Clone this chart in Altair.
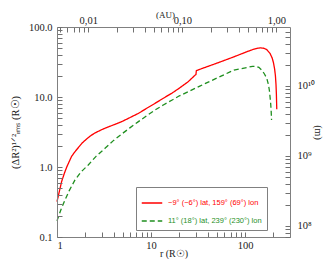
import altair as alt
import pandas as pd

# ---- data ----
RSUN_M = 6.96e8      # metres per solar radius
AU_RSUN = 215.0      # solar radii per AU

red_label = "−9° (−6°) lat, 159° (69°) lon"
green_label = "11° (18°) lat, 239° (230°) lon"

red_r = [1.0, 1.06, 1.12, 1.2, 1.27, 1.35, 1.43, 1.55, 1.69, 1.85, 2.07, 2.3, 2.54, 2.9, 3.24,
         4.0, 4.88, 6.0, 7.34, 9.0, 11.0, 13.5, 16.6, 20.0, 24.9, 29.5, 30.0, 30.3, 35.0, 40.0,
         50.0, 60.0, 76.0, 90.0, 105.0, 120.0, 134.0, 145.0, 158.0, 170.0, 184.0, 194.0, 200.0,
         206.0, 210.0, 213.0, 215.0, 216.0, 217.0]
red_dr = [0.32, 0.45, 0.62, 0.82, 1.0, 1.2, 1.42, 1.65, 1.9, 2.2, 2.52, 2.82, 3.07, 3.35, 3.58,
          4.0, 4.45, 5.1, 5.84, 6.9, 8.1, 9.6, 11.3, 13.4, 16.6, 20.6, 20.9, 23.8, 25.6, 27.3,
          30.4, 33.3, 37.5, 41.0, 44.5, 47.5, 49.5, 50.3, 49.7, 47.5, 42.0, 36.0, 31.0,
          25.0, 20.0, 15.0, 11.0, 8.5, 6.7]

green_r = [1.0, 1.1, 1.216, 1.35, 1.554, 1.8, 2.15, 2.6, 3.24, 4.0, 4.88, 6.0, 7.34, 9.0, 11.0,
           13.5, 16.6, 20.0, 24.9, 29.4, 33.0, 40.0, 54.0, 76.0, 105.0, 120.0, 130.0, 140.0,
           150.0, 160.0, 170.0, 177.0, 181.0, 184.0, 187.0, 189.0, 191.0]
green_dr = [0.17, 0.245, 0.338, 0.46, 0.653, 0.85, 1.07, 1.42, 1.85, 2.4, 2.96, 3.65, 4.45, 5.4, 6.5,
            7.7, 9.0, 10.4, 11.9, 13.3, 14.3, 16.2, 19.5, 24.3, 26.4, 27.4, 27.5, 26.5,
            24.3, 21.5, 18.5, 15.0, 12.5, 10.1, 8.0, 6.5, 4.7]

# tick positions and labels
left_ticks = [0.1, 0.2, 0.3, 0.4, 0.5, 0.6, 0.7, 0.8, 0.9, 1, 2, 3, 4, 5, 6, 7, 8, 9,
              10, 20, 30, 40, 50, 60, 70, 80, 90, 100]
bottom_ticks = [1, 2, 3, 4, 5, 6, 7, 8, 9, 10, 20, 30, 40, 50, 60, 70, 80, 90, 100, 200, 300]
top_ticks = [0.005, 0.006, 0.007, 0.008, 0.009, 0.01, 0.02, 0.03, 0.04, 0.05, 0.06, 0.07, 0.08,
             0.09, 0.1, 0.2, 0.3, 0.4, 0.5, 0.6, 0.7, 0.8, 0.9, 1.0]
right_ticks = [7e7, 8e7, 9e7, 1e8, 2e8, 3e8, 4e8, 5e8, 6e8, 7e8, 8e8, 9e8, 1e9, 2e9, 3e9, 4e9,
               5e9, 6e9, 7e9, 8e9, 9e9, 1e10, 2e10, 3e10, 4e10, 5e10, 6e10]
right_labels = {1e8: "10⁸", 1e9: "10⁹", 1e10: "10¹⁰"}

rows = []
for s, rr, dd in [(red_label, red_r, red_dr), (green_label, green_r, green_dr)]:
    for i, (a, b) in enumerate(zip(rr, dd)):
        rows.append({"series": s, "i": i, "r": a, "dr": b,
                     "au": a / AU_RSUN, "m": b * RSUN_M})
df = pd.DataFrame(rows)

MAJ = "abs(log(datum.value)/LN10 - round(log(datum.value)/LN10)) < 1e-6"
TICK_IN = alt.ExprRef("-5")   # inward ticks
FONT = "Liberation Serif"
AX = dict(grid=False, domainColor="#808080", tickColor="#707070", labelColor="#222222",
          titleColor="#222222", labelFont=FONT, titleFont=FONT, labelFontSize=10.5,
          titleFontWeight="normal", labelOverlap=False, zindex=1, tickWidth=1,
          tickSize=TICK_IN)

right_expr = (f"{MAJ} ? (datum.value < 5e8 ? '{right_labels[1e8]}' : "
              f"datum.value < 5e9 ? '{right_labels[1e9]}' : '{right_labels[1e10]}') : ''")

base = alt.Chart(df)

lines = base.mark_line(strokeWidth=1.3).encode(
    x=alt.X("r:Q", scale=alt.Scale(type="log", domain=[1, 300], nice=False),
            axis=alt.Axis(orient="bottom", values=bottom_ticks, title="r (R☉)",
                          labelExpr=f"{MAJ} ? format(datum.value, 'd') : ''",
                          labelPadding=8, titlePadding=-2.5, titleFontSize=10, **AX)),
    y=alt.Y("dr:Q", scale=alt.Scale(type="log", domain=[0.1, 100], nice=False),
            axis=alt.Axis(orient="left", values=left_ticks, title="(ΔR²)¹ᐟ²ᵣₘₛ (R☉)",
                          labelExpr=f"{MAJ} ? format(datum.value, '.1f') : ''",
                          labelPadding=10, titlePadding=8, titleFontSize=10.5, **AX)),
    color=alt.Color("series:N",
                    scale=alt.Scale(domain=[red_label, green_label], range=["#ff0000", "#1f8f1f"]),
                    legend=alt.Legend(title=None, orient="none", legendX=79, legendY=160,
                                      strokeColor="#808080", fillColor="white", padding=5,
                                      symbolType="stroke", symbolSize=420, symbolStrokeWidth=1.3,
                                      labelFont="Liberation Sans", labelFontSize=7.5,
                                      labelOffset=5, rowPadding=3,
                                      labelColor={"expr": f"datum.value == '{red_label}' ? '#ff0000' : '#1f8f1f'"})),
    strokeDash=alt.StrokeDash("series:N",
                              scale=alt.Scale(domain=[red_label, green_label], range=[[1, 0], [5, 3]]),
                              legend=alt.Legend(title=None, orient="none", legendX=79, legendY=160)),
    order="i:Q",
)

ghost = base.mark_line(opacity=0).encode(
    x=alt.X("au:Q", scale=alt.Scale(type="log", domain=[1 / AU_RSUN, 300 / AU_RSUN], nice=False),
            axis=alt.Axis(orient="top", values=top_ticks, title="(AU)",
                          labelExpr=f"{MAJ} ? replace(format(datum.value, '.2f'), '.', ',') : ''",
                          labelPadding=6.5, titlePadding=-3.5, titleFontSize=9, titleX=108,
                          **AX)),
    y=alt.Y("m:Q", scale=alt.Scale(type="log", domain=[0.1 * RSUN_M, 100 * RSUN_M], nice=False),
            axis=alt.Axis(orient="right", values=right_ticks, title="(m)",
                          labelExpr=right_expr, labelPadding=12,
                          titlePadding=-2, titleFontSize=10, **AX)),
    detail="series:N",
)

chart = alt.layer(lines, ghost).resolve_scale(x="independent", y="independent").properties(
    width=233, height=210,
    autosize=alt.AutoSizeParams(type="none"),
    padding={"left": 49, "top": 19, "right": 36, "bottom": 22},
).configure_view(stroke=None)

chart.save("out.html", embed_options={"renderer": "svg", "actions": False})
